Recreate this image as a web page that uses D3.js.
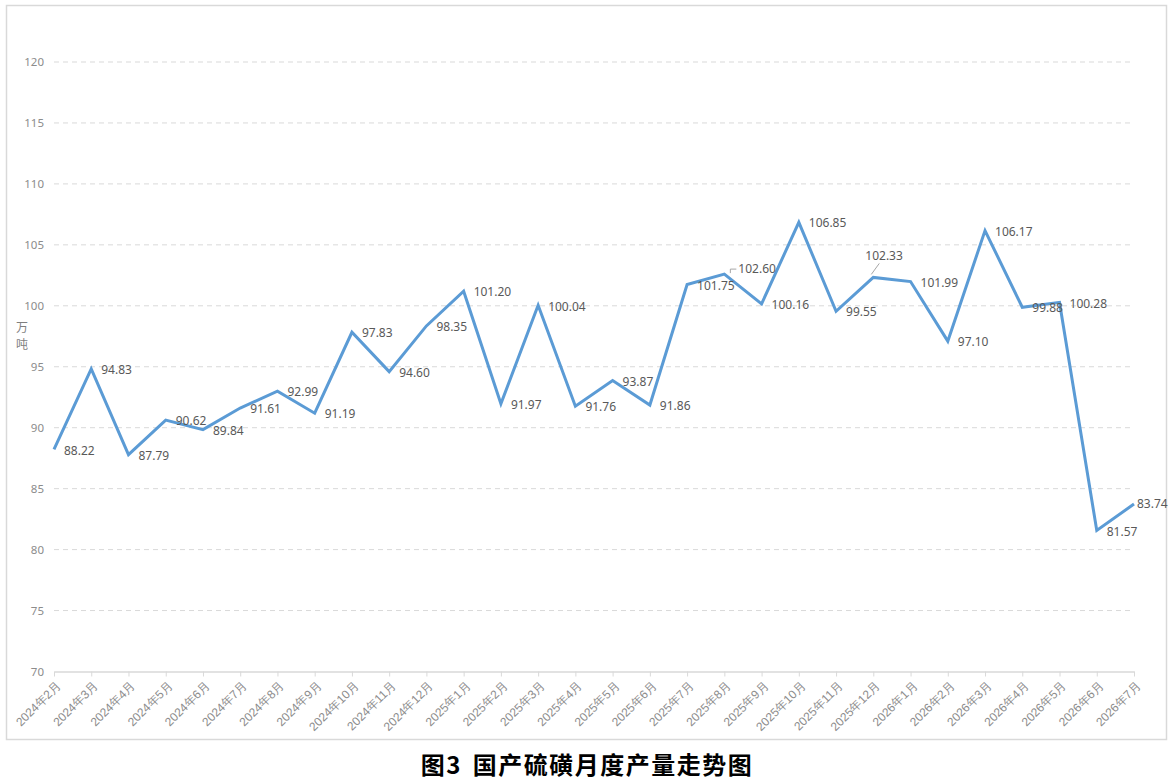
<!DOCTYPE html>
<html><head><meta charset="utf-8">
<script src="https://cdn.jsdelivr.net/npm/d3@7"></script>
<style>body{margin:0;background:#fff;}svg{display:block;font-family:"Noto Sans CJK SC","Microsoft YaHei",sans-serif;}</style>
</head><body>
<svg id="c" width="1173" height="783"></svg>
<script>
const categories = ["2024年2月","2024年3月","2024年4月","2024年5月","2024年6月","2024年7月","2024年8月","2024年9月","2024年10月","2024年11月","2024年12月","2025年1月","2025年2月","2025年3月","2025年4月","2025年5月","2025年6月","2025年7月","2025年8月","2025年9月","2025年10月","2025年11月","2025年12月","2026年1月","2026年2月","2026年3月","2026年4月","2026年5月","2026年6月","2026年7月"];
const values = [88.22,94.83,87.79,90.62,89.84,91.61,92.99,91.19,97.83,94.60,98.35,101.20,91.97,100.04,91.76,93.87,91.86,101.75,102.60,100.16,106.85,99.55,102.33,101.99,97.10,106.17,99.88,100.28,81.57,83.74];
const yTicks = [70,75,80,85,90,95,100,105,110,115,120];
const unitLabel = ["万","吨"];
const title = "图3 国产硫磺月度产量走势图";

const numFont = "'Noto Sans','DejaVu Sans',sans-serif";
const svg = d3.select("#c");
svg.append("rect").attr("x",6.5).attr("y",5.5).attr("width",1160).attr("height",734)
  .attr("fill","#fff").attr("stroke","#d9d9d9").attr("stroke-width",1.5);

const x = d3.scalePoint().domain(categories).range([54,1134]);
const y = d3.scaleLinear().domain([70,120]).range([671.5,62]);

// gridlines
svg.append("g").selectAll("line").data(yTicks.filter(t=>t>70)).join("line")
  .attr("x1",54).attr("x2",1134).attr("y1",d=>y(d)).attr("y2",d=>y(d))
  .attr("stroke","#d9d9d9").attr("stroke-width",1).attr("stroke-dasharray","5,4");

// y axis labels
const ya = svg.append("g").attr("transform","translate(54,0)")
  .call(d3.axisLeft(y).tickValues(yTicks).tickSize(0).tickPadding(10));
ya.select(".domain").remove();
ya.selectAll("text").attr("fill","#8c8c8c").style("font-size","11.5px").style("font-family",numFont);

// unit label
svg.append("g").selectAll("text").data(unitLabel).join("text")
  .attr("x",22).attr("y",(d,i)=>328+i*17).attr("dy","0.35em").attr("text-anchor","middle")
  .attr("fill","#7f7f7f").style("font-size","12px").text(d=>d);

// x axis
const xa = svg.append("g").attr("transform","translate(0,671.5)")
  .call(d3.axisBottom(x).tickSize(5).tickSizeOuter(0));
xa.select(".domain").attr("stroke","#d9d9d9").attr("stroke-width",1.5);
xa.selectAll(".tick line").attr("stroke","#d9d9d9");
xa.selectAll("text").attr("fill","#8c8c8c").style("font-size","12px")
  .attr("text-anchor","end").attr("dy","0.35em")
  .attr("transform","translate(4,12) rotate(-45)").attr("y",0).attr("x",0);

// line
const line = d3.line().x((d,i)=>x(categories[i])).y(d=>y(d));
svg.append("path").datum(values).attr("d",line).attr("fill","none")
  .attr("stroke","#5b9bd5").attr("stroke-width",3).attr("stroke-linejoin","miter");

// data labels
const special = {22:{dx:-8,dy:-22,anchor:"start",leader:true}, 18:{dx:14,dy:-5,anchor:"start",hook:true}, 29:{dx:3,dy:0,anchor:"start"}};
const lg = svg.append("g");
values.forEach((v,i)=>{
  const px = x(categories[i]), py = y(v);
  const s = special[i] || {dx:10,dy:1,anchor:"start"};
  lg.append("text").attr("x",px+s.dx).attr("y",py+s.dy).attr("dy","0.35em")
    .attr("text-anchor",s.anchor).attr("fill","#595959").style("font-size","12px")
    .style("font-family",numFont)
    .text(v.toFixed(2));
  if(s.leader){
    lg.append("line").attr("x1",px-2).attr("y1",py-3).attr("x2",px+6).attr("y2",py-14)
      .attr("stroke","#a6a6a6").attr("stroke-width",1);
  }
  if(s.hook){
    lg.append("path").attr("d",`M${px+6},${py-1} L${px+6},${py-5} L${px+12},${py-5}`)
      .attr("fill","none").attr("stroke","#a6a6a6").attr("stroke-width",1);
  }
});

// title
svg.append("text").attr("x",587).attr("y",774).attr("text-anchor","middle")
  .attr("fill","#000").style("font-size","24px").style("font-weight","bold")
  .style("letter-spacing","1.5px").style("word-spacing","4px").text(title);
</script>
</body></html>
